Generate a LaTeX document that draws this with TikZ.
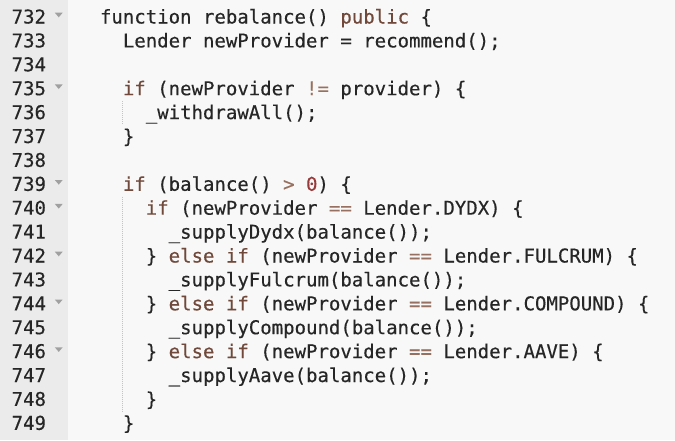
\documentclass[tikz,border=0pt]{standalone}
\usepackage{fontspec}
\newfontfamily\codefont{DejaVu Sans Mono}[FakeBold=0.35]
\definecolor{gutterbg}{HTML}{EBEBEB}
\definecolor{codebg}{HTML}{F8F8F8}
\definecolor{txt}{HTML}{262626}
\definecolor{kw}{HTML}{70493A}
\definecolor{op}{HTML}{98705F}
\definecolor{num}{HTML}{993A3A}
\definecolor{foldc}{HTML}{A0A0A0}
\definecolor{guide}{HTML}{C4C4C4}
\newcommand\K[1]{\textcolor{kw}{#1}}
\newcommand\Op[1]{\textcolor{op}{#1}}
\newcommand\Nm[1]{\textcolor{num}{#1}}
\tikzset{
  codetext/.style={anchor=base west, inner sep=0pt, outer sep=0pt, text=txt,
    font=\codefont\fontsize{14.26pt}{18pt}\selectfont},
  lnum/.style={anchor=base east, inner sep=0pt, outer sep=0pt, text=txt,
    font=\codefont\fontsize{14.26pt}{18pt}\selectfont},
  foldmark/.style={fill=foldc},
  indentguide/.style={draw=guide, line width=0.75pt, dash pattern=on 0.75pt off 0.75pt}
}
\begin{document}
\begin{tikzpicture}[x=0.75pt,y=-0.75pt]
\useasboundingbox (0,0) rectangle (675,440);
\fill[codebg] (0,0) rectangle (675,440);
\fill[gutterbg] (0,0) rectangle (68,440);
% line numbers
\foreach \i in {0,...,17} {
  \pgfmathsetmacro\yy{23.5+23.9*\i}
  \pgfmathtruncatemacro\ln{732+\i}
  \node[lnum] (n\ln) at (46,\yy) {\ln};
}
% fold markers
\foreach \i in {0,3,7,8,10,12,14} {
  \pgfmathsetmacro\yy{23.5+23.9*\i}
  \fill[foldmark] (54.8,\yy-10.8) -- (62.7,\yy-10.8) -- (58.75,\yy-6.2) -- cycle;
}
% indent guides
\coordinate (g1a) at (122,101.1);
\coordinate (g1b) at (122,125.0);
\coordinate (g2a) at (122,196.7);
\coordinate (g2b) at (122,411.8);
\draw[indentguide] (g1a) -- (g1b);
\draw[indentguide] (g2a) -- (g2b);
% code
\node[codetext] (l732) at (100,23.5) {function rebalance() \K{public} \{};
\node[codetext] (l733) at (122.9,47.4) {Lender newProvider = recommend();};
\node[codetext] (l735) at (122.9,95.2) {\K{if} (newProvider \Op{!=} provider) \{};
\node[codetext] (l736) at (145.8,119.1) {\_withdrawAll();};
\node[codetext] (l737) at (122.9,143.0) {\}};
\node[codetext] (l739) at (122.9,190.8) {\K{if} (balance() \Op{>} \Nm{0}) \{};
\node[codetext] (l740) at (145.8,214.7) {\K{if} (newProvider \Op{==} Lender.DYDX) \{};
\node[codetext] (l741) at (168.7,238.6) {\_supplyDydx(balance());};
\node[codetext] (l742) at (145.8,262.5) {\} \K{else if} (newProvider \Op{==} Lender.FULCRUM) \{};
\node[codetext] (l743) at (168.7,286.4) {\_supplyFulcrum(balance());};
\node[codetext] (l744) at (145.8,310.3) {\} \K{else if} (newProvider \Op{==} Lender.COMPOUND) \{};
\node[codetext] (l745) at (168.7,334.2) {\_supplyCompound(balance());};
\node[codetext] (l746) at (145.8,358.1) {\} \K{else if} (newProvider \Op{==} Lender.AAVE) \{};
\node[codetext] (l747) at (168.7,382.0) {\_supplyAave(balance());};
\node[codetext] (l748) at (145.8,405.9) {\}};
\node[codetext] (l749) at (122.9,429.8) {\}};
\end{tikzpicture}
\end{document}
